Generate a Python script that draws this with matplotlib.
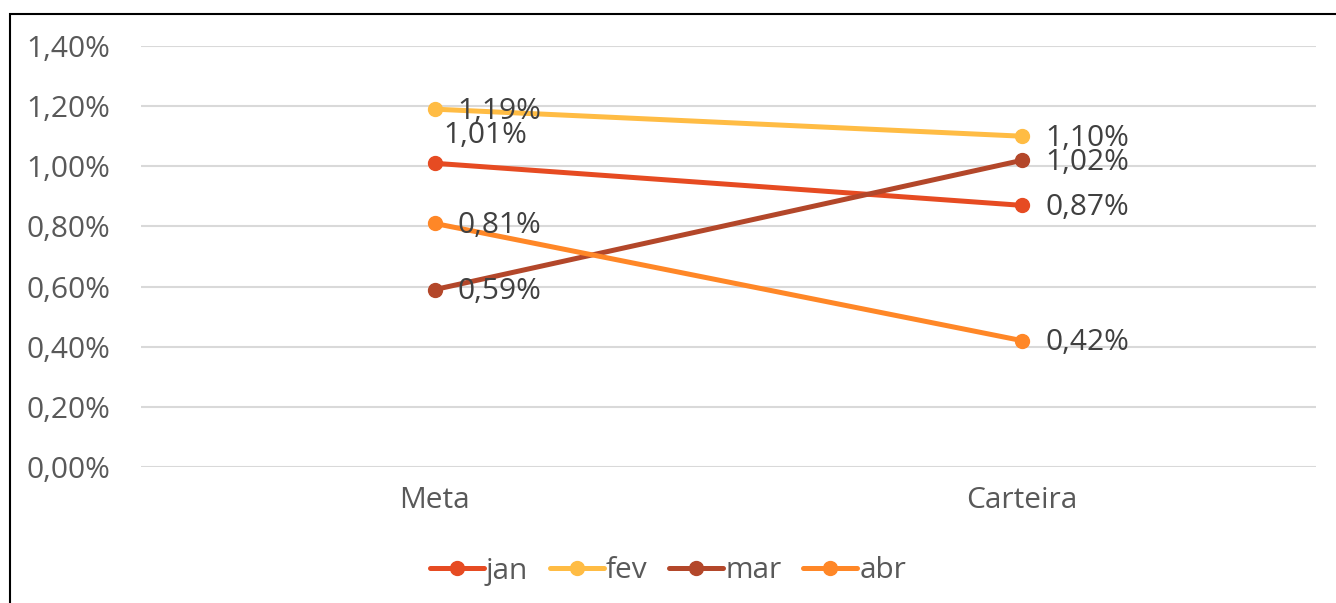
import matplotlib.pyplot as plt
from matplotlib.patches import Rectangle
from matplotlib.ticker import FuncFormatter

plt.rcParams['font.family'] = ['Open Sans', 'DejaVu Sans']

categories = ['Meta', 'Carteira']
series = ['jan', 'fev', 'mar', 'abr']
jan = [1.01, 0.87]
fev = [1.19, 1.10]
mar = [0.59, 1.02]
abr = [0.81, 0.42]
values = [jan, fev, mar, abr]
colors = ['#E64B22', '#FFBC44', '#B3472A', '#FF8727']

# label offsets in pixels (dx, dy) for each point, left-aligned text
offsets = {
    ('jan', 0): (9, 28), ('fev', 0): (23, -2), ('mar', 0): (23, -2), ('abr', 0): (23, -2),
    ('jan', 1): (23, -2), ('fev', 1): (23, -2), ('mar', 1): (23, -2), ('abr', 1): (23, -2),
}

fig = plt.figure(figsize=(13.36, 6.03), dpi=100)
ax = fig.add_axes([141 / 1336, 1 - 467 / 603, 1175 / 1336, 421 / 603])

x = range(len(categories))
for name, vals, c in zip(series, values, colors):
    ax.plot(x, vals, color=c, lw=3.6, marker='o', ms=10, label=name,
            solid_capstyle='round')
    for i, v in enumerate(vals):
        dx, dy = offsets[(name, i)]
        ax.annotate(f'{v:.2f}%'.replace('.', ','), (i, v), xytext=(dx * 0.72, dy * 0.72),
                    textcoords='offset points', ha='left', va='center',
                    fontsize=21.5, color='#404040')

ax.set_xlim(-0.5, 1.5)
ax.set_ylim(0, 1.4)
ax.set_yticks([0, 0.2, 0.4, 0.6, 0.8, 1.0, 1.2, 1.4])
ax.yaxis.set_major_formatter(FuncFormatter(lambda v, p: f'{v:.2f}%'.replace('.', ',')))
ax.set_xticks(list(x))
ax.set_xticklabels(categories)
ax.tick_params(length=0, labelsize=21.5, labelcolor='#595959')
ax.tick_params(axis='y', pad=22)
ax.tick_params(axis='x', pad=14)
ax.grid(axis='y', color='#D9D9D9', lw=1.5)
ax.set_axisbelow(True)
for s in ax.spines.values():
    s.set_visible(False)

leg = fig.legend(loc='center', bbox_to_anchor=(0.5, 1 - 571 / 603), ncol=4, frameon=False,
                 fontsize=21.5, handlelength=1.8, handletextpad=0.08, columnspacing=0.72,
                 labelcolor='#595959')
for h in leg.get_lines():
    h.set_linewidth(3.6)
    h.set_solid_capstyle('round')

fig.patches.append(Rectangle((10 / 1336, -0.1), 1.2, 1 - 14 / 603 + 0.1,
                             transform=fig.transFigure, fill=False, ec='black', lw=1.5))

fig.savefig('out.png', dpi=100)
